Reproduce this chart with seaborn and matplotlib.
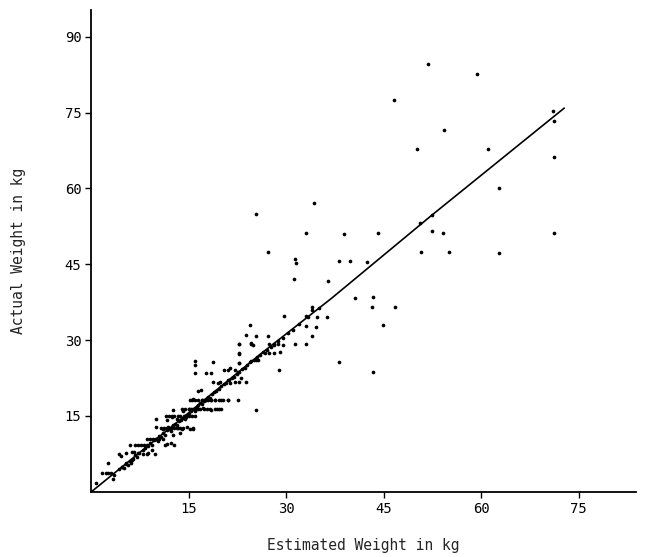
import matplotlib
matplotlib.use("Agg")
import matplotlib.pyplot as plt
import seaborn as sns
import pandas as pd

# Estimated vs. actual body weight (kg)
estimated = [
    # scattered high-weight cases
    51.8, 59.4, 46.6, 54.3, 50.1, 61.1, 71.0, 71.2, 71.3, 62.7,
    34.3, 33.0, 38.9, 44.1, 50.6, 52.4, 52.5, 54.2, 71.2, 50.8,
    55.0, 62.8, 38.2, 39.9, 42.4, 36.4, 40.6, 43.3, 43.2, 46.7,
    44.9, 43.3, 38.1, 27.2, 31.3, 31.5, 31.2, 25.4,
    # middle range
    33.9, 34.0, 29.6, 33.0, 34.7, 36.3, 24.5, 33.1, 34.6, 23.8,
    25.4, 27.2, 33.9, 22.8, 24.6, 24.9, 27.4, 28.2, 28.7, 29.5,
    31.4, 33.0, 22.8, 26.7, 27.4, 28.2, 29.0, 22.8, 24.6, 25.3,
    25.7, 28.9, 23.0, 25.4,
    # lower range
    10.0, 11.0, 11.8, 12.6, 13.4, 14.7, 15.2, 15.7, 11.6, 12.4,
    13.2, 14.6, 12.6, 14.1, 15.0, 16.0, 17.2, 18.5, 19.3, 20.0,
    15.2, 15.6, 17.0, 17.6, 18.5, 19.0, 20.0, 21.0, 22.6, 16.5,
    16.9, 18.7, 19.5, 19.8, 21.0, 21.3, 22.1, 22.8, 23.8, 17.7,
    18.5, 15.9, 16.0, 15.9, 18.7, 20.5, 21.0, 21.3, 22.1, 22.6,
    22.7, 22.7, 22.8, 24.6,
    # smallest weights
    0.8, 1.6, 2.2, 2.6, 3.0, 2.5, 3.4, 4.8, 5.4, 6.2, 4.6, 4.2,
    5.4, 6.2, 6.6, 7.2, 8.0, 8.5, 8.7, 9.8, 5.9, 6.7, 7.2, 7.7,
    8.1, 8.6, 9.3, 12.6, 12.3, 12.7, 11.3, 11.7, 13.6, 13.9, 10.0,
    15.7,
    # along the trend
    3.5, 4.2, 4.8, 5.0, 5.3, 5.6, 5.9, 6.1, 6.4, 6.8, 7.0, 7.4,
    7.9, 8.3, 8.8, 9.1, 9.4, 9.7, 10.0, 10.2, 10.5, 10.8, 11.1, 11.4,
    11.7, 12.0, 12.3, 12.6, 12.9, 13.2, 13.5, 13.8, 14.1, 14.4, 14.7, 15.0,
    15.3, 15.6, 15.9, 16.2, 16.5, 16.8, 17.1, 17.4, 17.7, 18.0, 18.3, 18.6,
    18.9, 19.2, 19.6, 20.0, 20.4, 20.8, 21.2, 21.6, 22.0, 22.4, 22.8, 23.2,
    23.6, 24.0, 24.5, 25.0, 25.5, 26.0, 26.5, 27.0, 27.6, 28.2, 28.8, 29.5,
    30.3, 31.0, 32.0, 33.4, 35.0,
    # banded rows
    11.5, 12.0, 12.4, 12.8, 13.3, 13.7, 14.2, 14.6, 15.1, 15.5, 16.0,
    14.0, 14.5, 15.0, 15.4, 15.9, 16.4, 16.8, 17.3, 17.8, 18.3, 19.0, 19.6,
    15.5, 16.0, 16.5, 17.0, 17.5, 18.0, 18.5, 19.0, 19.6, 20.3, 21.0,
    10.8, 11.2, 11.7, 12.2, 12.7, 13.2, 13.6, 14.1,
    8.5, 9.0, 9.5, 10.0, 10.5, 11.0,
]

actual = [
    84.7, 82.6, 77.5, 71.5, 67.9, 67.8, 75.3, 73.4, 66.3, 60.1,
    57.1, 51.2, 50.9, 51.2, 53.1, 54.7, 51.6, 51.1, 51.1, 47.4,
    47.5, 47.2, 45.7, 45.7, 45.5, 41.8, 38.4, 38.5, 36.6, 36.6,
    33.0, 23.7, 25.6, 47.5, 46.0, 45.2, 42.0, 55.0,
    36.6, 36.0, 34.8, 34.8, 34.6, 34.6, 33.0, 32.8, 32.7, 31.0,
    30.8, 30.9, 30.8, 29.2, 29.2, 29.1, 29.2, 29.1, 29.2, 29.1,
    29.2, 29.2, 27.4, 27.5, 27.4, 27.5, 27.6, 25.4, 25.8, 26.1,
    26.1, 24.0, 22.5, 16.2,
    14.4, 12.4, 12.8, 13.2, 12.6, 12.9, 12.4, 12.5, 14.2, 14.9,
    14.5, 14.8, 16.2, 15.9, 16.3, 16.1, 16.5, 16.2, 16.4, 16.3,
    18.2, 18.3, 18.2, 18.2, 18.2, 18.2, 18.2, 18.2, 18.2, 20.0,
    20.2, 21.8, 21.5, 21.8, 22.1, 21.6, 21.8, 21.7, 21.7, 23.5,
    23.6, 25.8, 25.1, 23.6, 25.6, 24.0, 24.1, 24.4, 24.0, 23.8,
    27.3, 25.4, 29.2, 29.4,
    1.7, 3.7, 3.7, 3.7, 3.7, 5.8, 2.5, 4.9, 5.7, 6.2, 7.1, 7.5,
    7.6, 7.9, 7.8, 7.6, 7.4, 7.4, 7.6, 7.4, 9.3, 9.3, 9.3, 9.3,
    9.3, 9.3, 8.3, 11.3, 9.6, 9.3, 9.3, 9.4, 11.6, 12.4, 12.9,
    12.6,
    3.4, 4.6, 5.0, 4.8, 5.6, 5.4, 6.1, 5.7, 6.5, 7.2, 6.9, 7.6,
    8.3, 8.6, 9.1, 9.6, 9.3, 10.2, 10.5, 10.0, 11.0, 10.8, 11.6, 11.3,
    12.2, 12.4, 12.1, 13.0, 13.4, 13.2, 14.0, 14.3, 14.6, 14.5, 15.2, 15.4,
    15.9, 16.3, 16.0, 16.8, 17.2, 17.5, 17.4, 18.0, 18.4, 18.7, 18.6, 19.4,
    19.8, 20.0, 20.4, 20.9, 21.3, 21.5, 22.1, 22.6, 22.8, 23.4, 23.8, 24.2,
    24.4, 25.0, 25.6, 26.0, 26.7, 27.0, 27.6, 28.0, 28.6, 29.3, 29.8, 30.5,
    31.4, 32.0, 33.2, 34.5, 36.4,
    15.0, 15.0, 15.0, 15.0, 15.0, 15.0, 15.0, 15.0, 15.0, 15.0, 15.0,
    16.4, 16.4, 16.4, 16.4, 16.4, 16.4, 16.4, 16.4, 16.4, 16.4, 16.4, 16.4,
    18.2, 18.2, 18.2, 18.2, 18.2, 18.2, 18.2, 18.2, 18.2, 18.2, 18.2,
    12.7, 12.7, 12.7, 12.7, 12.7, 12.7, 12.7, 12.7,
    10.5, 10.5, 10.5, 10.5, 10.5, 10.5,
]

# Fitted relationship
fit_estimated = [0.0, 14.0, 26.0, 37.0, 52.4, 72.8]
fit_actual = [0.0, 14.6, 27.2, 38.3, 54.7, 75.9]

x_ticks = [15, 30, 45, 60, 75]
y_ticks = [15, 30, 45, 60, 75, 90]

points = pd.DataFrame({"estimated": estimated, "actual": actual})
fit = pd.DataFrame({"estimated": fit_estimated, "actual": fit_actual})

sns.set_style("ticks")
plt.rcParams["font.family"] = ["DejaVu Sans Mono", "DejaVu Sans"]

fig = plt.figure(figsize=(6.52, 5.57), dpi=100)
ax = fig.add_axes([0.140, 0.117, 0.835, 0.865])

sns.scatterplot(data=points, x="estimated", y="actual", ax=ax,
                color="black", s=7, linewidth=0, legend=False)
sns.lineplot(data=fit, x="estimated", y="actual", ax=ax,
             color="black", linewidth=1.2, sort=False, estimator=None)

ax.set_xlim(0, 83.8)
ax.set_ylim(0, 95.3)
ax.set_xticks(x_ticks)
ax.set_yticks(y_ticks)
ax.tick_params(axis="both", direction="out", length=4, width=1.0,
               labelsize=10, colors="black", pad=3)

for side in ("top", "right"):
    ax.spines[side].set_visible(False)
for side in ("left", "bottom"):
    ax.spines[side].set_linewidth(1.3)
    ax.spines[side].set_color("black")

ax.set_xlabel("Estimated Weight in kg", fontsize=10.5)
ax.set_ylabel("Actual Weight in kg", fontsize=10.5)
ax.xaxis.set_label_coords(0.5, -0.095)
ax.yaxis.set_label_coords(-0.12, 0.5)

fig.savefig("out.png", dpi=100, facecolor="white")
